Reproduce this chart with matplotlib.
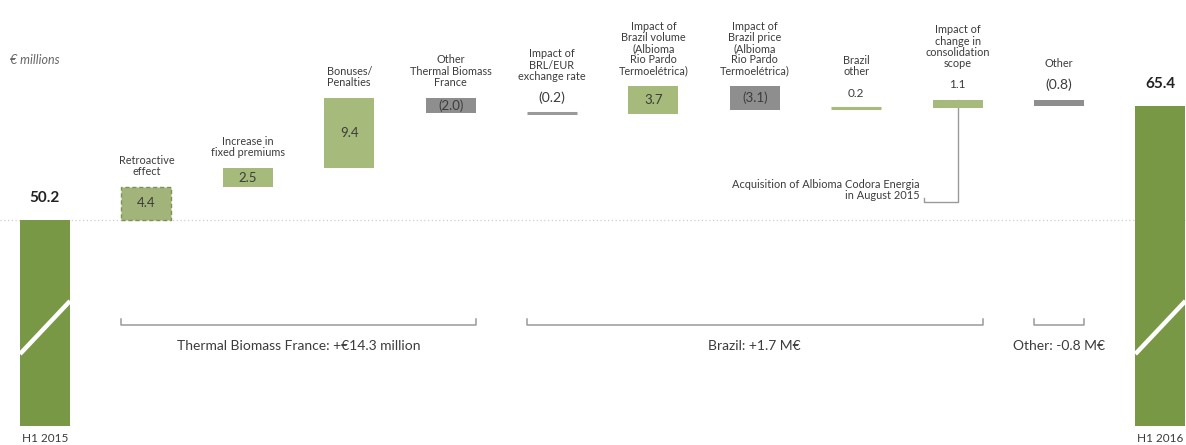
import matplotlib
matplotlib.use("Agg")
import matplotlib.pyplot as plt

# ---------------- data ----------------
categories = ["H1 2015", "Retroactive\neffect", "Increase in\nfixed premiums",
              "Bonuses/\nPenalties", "Other\nThermal Biomass\nFrance",
              "Impact of\nBRL/EUR\nexchange rate",
              "Impact of\nBrazil volume\n(Albioma\nRio Pardo\nTermoelétrica)",
              "Impact of\nBrazil price\n(Albioma\nRio Pardo\nTermoelétrica)",
              "Brazil\nother", "Impact of\nchange in\nconsolidation\nscope",
              "Other", "H1 2016"]
start_total = 50.2
end_total = 65.4
changes = [4.4, 2.5, 9.4, -2.0, -0.2, 3.7, -3.1, 0.2, 1.1, -0.8]
value_labels = ["4.4", "2.5", "9.4", "(2.0)", "(0.2)", "3.7", "(3.1)", "0.2", "1.1", "(0.8)"]
total_labels = ["50.2", "65.4"]
groups = [("Thermal Biomass France: +€14.3 million", 1, 4),
          ("Brazil: +1.7 M€", 5, 9),
          ("Other: -0.8 M€", 10, 10)]
note_text = "Acquisition of Albioma Codora Energia\nin August 2015"
note_index = 9
unit_label = "€ millions"

# ---------------- style ----------------
FONT = "Lato"
DARK_GREEN = "#789845"
LIGHT_GREEN = "#a6ba7c"
GRAY = "#8e8e8e"
LINE_GRAY = "#9a9a9a"
TXT = "#3c3c3c"

W, H = 1186, 445
STEP_PX = 101.4
X0_PX = 45
PX_PER_UNIT = 7.5
BASE_PX = 220  # pixel row of start total
BAR_W = 50 / STEP_PX

plt.rcParams['font.family'] = [FONT, 'DejaVu Sans']
fig = plt.figure(figsize=(W / 100, H / 100), dpi=100)
ax = fig.add_axes([0, 0, 1, 1])
ax.set_xlim(-X0_PX / STEP_PX, (W - X0_PX) / STEP_PX)
ax.set_ylim(start_total - (H - BASE_PX) / PX_PER_UNIT, start_total + BASE_PX / PX_PER_UNIT)
ax.axis("off")

def px(n):
    return n / PX_PER_UNIT

floor = start_total - px(206)

# dotted baseline
ax.axhline(start_total, color="#cfcfcf", lw=0.9, ls=(0, (1, 2)), zorder=0)

# totals
n = len(categories)
for idx, val, lab in [(0, start_total, total_labels[0]), (n - 1, end_total, total_labels[1])]:
    ax.bar(idx, val - floor, bottom=floor, width=BAR_W, color=DARK_GREEN, zorder=2)
    ax.annotate(lab, (idx, val), xytext=(0, 22 * 0.72), textcoords="offset points",
                ha="center", va="center", fontsize=11, fontweight="bold", color="#222222")
    ax.annotate(categories[idx], (idx, floor), xytext=(0, -12 * 0.72), textcoords="offset points",
                ha="center", va="center", fontsize=8.5, color=TXT)
    # axis-break slash
    ax.plot([idx - BAR_W / 2, idx + BAR_W / 2], [floor + px(72), floor + px(125)],
            color="white", lw=3.2, solid_capstyle="butt", zorder=3)

# steps
run = start_total
for k, ch in enumerate(changes):
    i = k + 1
    lo, hi = (run, run + ch) if ch >= 0 else (run + ch, run)
    color = LIGHT_GREEN if ch >= 0 else GRAY
    thin = abs(ch) < 0.5
    if thin:
        col = LINE_GRAY if ch < 0 else LIGHT_GREEN
        ax.plot([i - BAR_W / 2, i + BAR_W / 2], [hi, hi], color=col, lw=2.2,
                solid_capstyle="butt", zorder=2)
    elif k == 0:
        ax.bar(i, hi - lo, bottom=lo, width=BAR_W, color="#a3b47a", edgecolor="#7d9250",
               linestyle=(0, (3, 2)), linewidth=1, zorder=2)
    else:
        ax.bar(i, hi - lo, bottom=lo, width=BAR_W, color=color, zorder=2)
    if thin or abs(ch) < 1.5:
        ax.annotate(value_labels[k], (i, hi), xytext=(0, 15 * 0.72), textcoords="offset points",
                    ha="center", va="center", fontsize=10 if ch < 0 else 8.5, color=TXT)
        lab_off = 31
    else:
        ax.text(i, (lo + hi) / 2, value_labels[k], ha="center", va="center",
                fontsize=9.5, color=TXT, zorder=3)
        lab_off = 10
    ax.annotate(categories[i], (i, hi), xytext=(0, lab_off * 0.72), textcoords="offset points",
                ha="center", va="bottom", fontsize=7.8, color=TXT, linespacing=1.02)
    run += ch

# group brackets
bracket_y = start_total - px(105)
tick = px(6)
for text, a, b in groups:
    xa, xb = a - BAR_W / 2, b + BAR_W / 2
    ax.plot([xa, xa, xb, xb], [bracket_y + tick, bracket_y, bracket_y, bracket_y + tick],
            color=LINE_GRAY, lw=1.1, zorder=1)
    ax.text((a + b) / 2, bracket_y - px(21), text, ha="center", va="center",
            fontsize=10, color=TXT)

# acquisition note
note_top = start_total + sum(changes[:note_index - 1]) + changes[note_index - 1]
note_y = start_total + px(18)
left_x = note_index - 0.335
ax.plot([note_index, note_index, left_x, left_x],
        [note_top, note_y, note_y, note_y + px(4)], color=LINE_GRAY, lw=1, zorder=1)
ax.text(left_x - 0.04, note_y + px(1), note_text, ha="right", va="bottom",
        fontsize=7.9, color=TXT, linespacing=1.02, multialignment="right")

# unit label
fig.text(10 / W, 1 - 60 / H, unit_label, ha="left", va="center", fontsize=9,
         style="italic", color="#666666")

fig.savefig("out.png", dpi=100)
